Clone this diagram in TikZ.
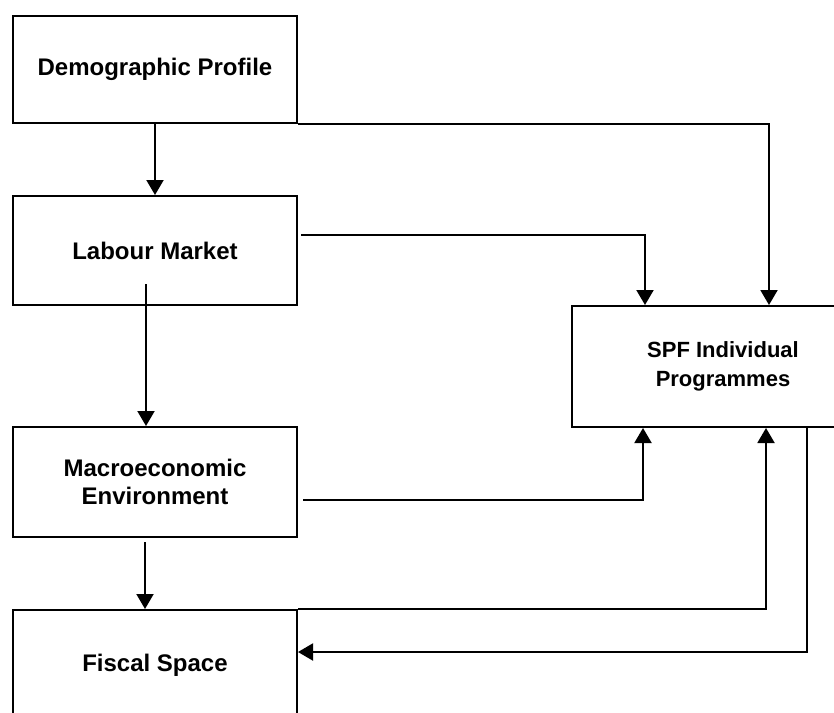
\documentclass[tikz,border=0pt]{standalone}
\usepackage{fontspec}
\setmainfont{Liberation Sans}
\usetikzlibrary{arrows.meta}
\tikzset{
  box/.style={draw,line width=2pt,minimum width=284pt,align=center,font=\fontsize{24}{28}\selectfont\bfseries},
  arr/.style={line width=2pt,-{Triangle[length=15pt,width=17pt]}}
}
\begin{document}
\begin{tikzpicture}[x=1pt,y=-1pt]
  \useasboundingbox (0,0) rectangle (834,712);
  \clip (0,0) rectangle (834,712);
  \fill[white] (0,0) rectangle (834,712);
    \node [box,minimum height=107pt] (demo) at (155,69.5) {Demographic Profile};
    \node [box,minimum height=109pt] (labour) at (155,250.5) {Labour Market};
    \node [box,minimum height=110pt] (macro) at (155,482) {Macroeconomic\\Environment};
    \node [box,minimum height=110pt] (fiscal) at (155,665) {Fiscal Space};
    \node [box,minimum width=302pt,minimum height=121pt,font=\fontsize{22}{29}\selectfont\bfseries] (spf) at (723,366.5) {SPF Individual\\Programmes};
    \coordinate (lm) at (146,284);
    \coordinate (mf) at (145,542);
    \coordinate (la) at (301,235);
    \coordinate (ma) at (303,500);
  \draw [arr] (demo.south) -- (labour.north);
  \draw [arr] (lm) -- (lm |- macro.north);
  \draw [arr] (mf) -- (mf |- fiscal.north);
  \draw [arr] (demo.south east) -| ([xshift=46pt]spf.north);
  \draw [arr] (la) -| ([xshift=-78pt]spf.north);
  \draw [arr] (ma) -| ([xshift=-80pt]spf.south);
  \draw [arr] (fiscal.north east) -| ([xshift=43pt]spf.south);
  \draw [arr] ([xshift=84pt]spf.south) |- ([yshift=13pt]fiscal.east);
\end{tikzpicture}
\end{document}
